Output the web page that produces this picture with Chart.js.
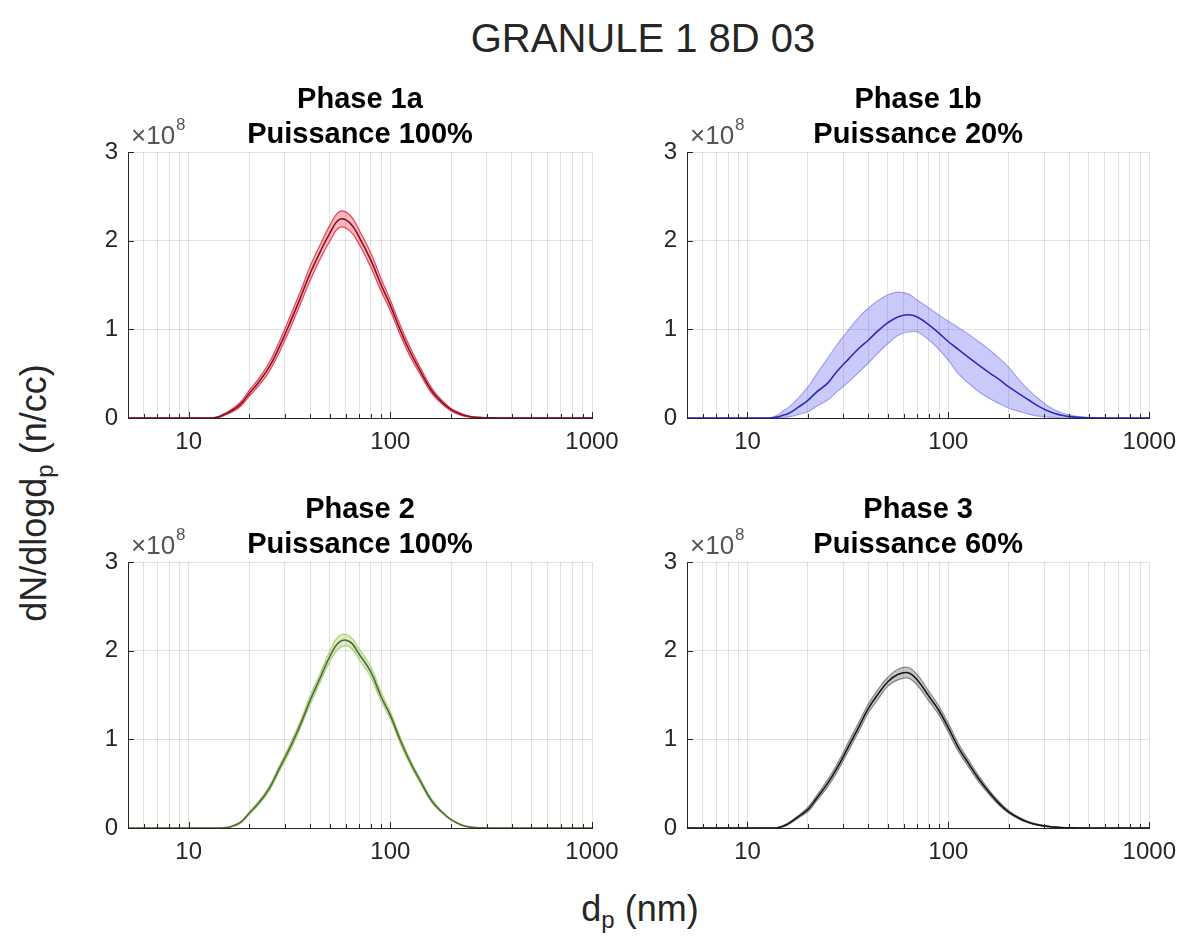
<!DOCTYPE html>
<html>
<head>
<meta charset="utf-8">
<script src="https://cdn.jsdelivr.net/npm/chart.js@4/dist/chart.umd.min.js"></script>
<style>
  body { margin: 0; background: #fff; }
  #fig { position: relative; width: 1186px; height: 941px; overflow: hidden; font-family: "Liberation Sans", Arial, sans-serif; }
  canvas { position: absolute; }
  .txt { position: absolute; text-align: center; color: #262626; white-space: nowrap; }
  #suptitle { left: 443px; top: 18px; width: 400px; font-size: 40px; line-height: 40px; }
  #xlabel { left: 440px; top: 889px; width: 400px; font-size: 36px; line-height: 40px; }
  #ylabel { left: -166px; top: 468px; width: 400px; font-size: 36px; line-height: 50px; transform: rotate(-90deg); }
  .txt sub { font-size: 24px; vertical-align: -0.3em; line-height: 0; }
</style>
</head>
<body>
<div id="fig">
  <div class="txt" id="suptitle">GRANULE 1 8D 03</div>
  <div class="txt" id="ylabel">dN/dlogd<sub>p</sub> (n/cc)</div>
  <div class="txt" id="xlabel">d<sub>p</sub> (nm)</div>
  <canvas id="c1a" width="575" height="400" style="left:60px;top:70px"></canvas>
  <canvas id="c1b" width="551" height="400" style="left:635px;top:70px"></canvas>
  <canvas id="c2" width="575" height="400" style="left:60px;top:480px"></canvas>
  <canvas id="c3" width="551" height="400" style="left:635px;top:480px"></canvas>
</div>
<script>
// particle diameter bins (nm)
const diameters = [5, 8, 10, 11, 12, 13, 14, 15, 16, 18, 20, 22, 25, 28, 32, 36, 40, 45, 50, 56,
                   63, 70, 80, 90, 100, 112, 125, 140, 160, 180, 200, 225, 250, 280, 320, 360, 400, 500, 700, 1000]

// dN/dlogdp in units of 1e8 n/cc : mean, upper and lower band
const phase1aMean  = [0, 0, 0, 0, 0, 0, 0.01, 0.04, 0.07, 0.15, 0.28, 0.39, 0.57, 0.79, 1.09, 1.37, 1.63, 1.88, 2.08, 2.24,
                      2.2, 2.04, 1.78, 1.5, 1.27, 0.99, 0.75, 0.54, 0.31, 0.18, 0.094, 0.04, 0.015, 0.005, 0.001, 0, 0, 0, 0, 0]
const phase1aUpper = [0, 0, 0, 0, 0, 0.002, 0.016, 0.05, 0.085, 0.175, 0.315, 0.43, 0.62, 0.85, 1.16, 1.44, 1.71, 1.96, 2.17, 2.33,
                      2.29, 2.12, 1.86, 1.57, 1.33, 1.045, 0.8, 0.58, 0.34, 0.2, 0.108, 0.05, 0.02, 0.008, 0.002, 0, 0, 0, 0, 0]
const phase1aLower = [0, 0, 0, 0, 0, 0, 0.005, 0.03, 0.056, 0.127, 0.247, 0.35, 0.52, 0.73, 1.02, 1.3, 1.55, 1.8, 1.99, 2.15,
                      2.11, 1.96, 1.7, 1.43, 1.21, 0.935, 0.7, 0.5, 0.28, 0.16, 0.08, 0.03, 0.01, 0.002, 0, 0, 0, 0, 0, 0]

const phase1bMean  = [0, 0, 0, 0, 0, 0, 0.01, 0.03, 0.05, 0.125, 0.2, 0.29, 0.39, 0.53, 0.67, 0.79, 0.88, 0.99, 1.075, 1.14,
                      1.165, 1.14, 1.05, 0.955, 0.86, 0.775, 0.69, 0.605, 0.51, 0.43, 0.35, 0.273, 0.206, 0.134, 0.07, 0.035, 0.015, 0.002, 0, 0]
const phase1bUpper = [0, 0, 0, 0, 0, 0.003, 0.03, 0.08, 0.12, 0.23, 0.35, 0.49, 0.67, 0.83, 1.0, 1.14, 1.24, 1.33, 1.39, 1.42,
                      1.4, 1.33, 1.24, 1.16, 1.09, 1.02, 0.95, 0.87, 0.77, 0.67, 0.57, 0.43, 0.32, 0.22, 0.12, 0.065, 0.035, 0.003, 0, 0]
const phase1bLower = [0, 0, 0, 0, 0, 0, 0.002, 0.006, 0.012, 0.04, 0.07, 0.13, 0.2, 0.3, 0.41, 0.52, 0.62, 0.74, 0.84, 0.93,
                      0.97, 0.97, 0.88, 0.77, 0.65, 0.5, 0.4, 0.305, 0.22, 0.16, 0.11, 0.075, 0.045, 0.022, 0.01, 0.003, 0, 0, 0, 0]

const phase2Mean  = [0, 0, 0, 0, 0, 0, 0, 0.003, 0.012, 0.06, 0.17, 0.27, 0.44, 0.66, 0.92, 1.18, 1.44, 1.7, 1.93, 2.1,
                     2.1, 1.96, 1.76, 1.48, 1.27, 0.99, 0.75, 0.54, 0.31, 0.18, 0.094, 0.035, 0.01, 0.002, 0, 0, 0, 0, 0, 0]
const phase2Upper = [0, 0, 0, 0, 0, 0, 0, 0.005, 0.017, 0.07, 0.185, 0.29, 0.465, 0.69, 0.96, 1.22, 1.49, 1.75, 1.99, 2.17,
                     2.16, 2.02, 1.82, 1.53, 1.31, 1.03, 0.78, 0.565, 0.33, 0.19, 0.1, 0.04, 0.012, 0.003, 0, 0, 0, 0, 0, 0]
const phase2Lower = [0, 0, 0, 0, 0, 0, 0, 0.001, 0.008, 0.05, 0.155, 0.25, 0.415, 0.63, 0.88, 1.14, 1.39, 1.65, 1.87, 2.03,
                     2.04, 1.9, 1.7, 1.43, 1.23, 0.95, 0.72, 0.515, 0.29, 0.17, 0.088, 0.03, 0.008, 0.001, 0, 0, 0, 0, 0, 0]

const phase3Mean  = [0, 0, 0, 0, 0, 0, 0.002, 0.02, 0.05, 0.13, 0.21, 0.33, 0.5, 0.68, 0.93, 1.15, 1.35, 1.52, 1.65, 1.73,
                     1.75, 1.67, 1.485, 1.32, 1.13, 0.91, 0.74, 0.57, 0.4, 0.27, 0.18, 0.11, 0.065, 0.035, 0.015, 0.006, 0.002, 0, 0, 0]
const phase3Upper = [0, 0, 0, 0, 0, 0.001, 0.004, 0.026, 0.06, 0.145, 0.235, 0.36, 0.54, 0.725, 0.98, 1.2, 1.4, 1.575, 1.7, 1.79,
                     1.81, 1.73, 1.54, 1.37, 1.18, 0.955, 0.78, 0.605, 0.425, 0.29, 0.195, 0.12, 0.072, 0.04, 0.018, 0.007, 0.003, 0, 0, 0]
const phase3Lower = [0, 0, 0, 0, 0, 0, 0.001, 0.013, 0.04, 0.115, 0.185, 0.3, 0.46, 0.635, 0.88, 1.1, 1.3, 1.465, 1.6, 1.67,
                     1.69, 1.61, 1.43, 1.27, 1.08, 0.865, 0.7, 0.535, 0.375, 0.25, 0.165, 0.1, 0.058, 0.03, 0.012, 0.005, 0.001, 0, 0, 0]

// axes
const xMajorTicks = [10, 100, 1000]
const xMinorTicks = [5, 6, 7, 8, 9, 20, 30, 40, 50, 60, 70, 80, 90, 200, 300, 400, 500, 600, 700, 800, 900]
const yTicks = [0, 1, 2, 3]
const yExponent = '8'

const FONT = '"Liberation Sans", Arial, sans-serif'
const INK = '#262626'
const GRID = 'rgba(38,38,38,0.13)'

// titles, inner tick marks and the x10^8 multiplier
const panelDecor = {
    id: 'panelDecor',
    afterDraw(chart, args, opts) {
        const {ctx, chartArea: a} = chart
        const xs = chart.scales.x, ys = chart.scales.y
        ctx.save()
        ctx.strokeStyle = INK
        ctx.lineWidth = 1
        ctx.beginPath()
        xMinorTicks.concat(xMajorTicks).forEach(v => {
            const px = Math.round(xs.getPixelForValue(v)) + 0.5
            const len = xMajorTicks.includes(v) ? 6 : 4
            ctx.moveTo(px, a.bottom)
            ctx.lineTo(px, a.bottom - len)
        })
        yTicks.forEach(v => {
            const py = Math.round(ys.getPixelForValue(v)) + 0.5
            ctx.moveTo(a.left, py)
            ctx.lineTo(a.left + 6, py)
        })
        ctx.stroke()

        ctx.fillStyle = '#555'
        ctx.textBaseline = 'alphabetic'
        ctx.textAlign = 'left'
        ctx.font = '26px ' + FONT
        ctx.fillText('\u00d710', a.left + 3, a.top - 8)
        const w = ctx.measureText('\u00d710').width
        ctx.font = '17px ' + FONT
        ctx.fillText(yExponent, a.left + 4 + w, a.top - 22)

        ctx.fillStyle = '#000'
        ctx.font = 'bold 29px ' + FONT
        ctx.textAlign = 'center'
        const cx = (a.left + a.right) / 2
        ctx.fillText(opts.lines[0], cx, a.top - 44)
        ctx.fillText(opts.lines[1], cx, a.top - 9)
        ctx.restore()
    }
}

function bandDatasets(mean, upper, lower, c) {
    const pts = arr => diameters.map((d, i) => ({x: d, y: arr[i]}))
    const common = {pointRadius: 0, tension: 0.4}
    return [
        {...common, data: pts(mean), borderColor: c.line, borderWidth: 1.6, fill: false},
        {...common, data: pts(upper), borderColor: c.edge, borderWidth: 1.2, backgroundColor: c.fill, fill: '+1'},
        {...common, data: pts(lower), borderColor: c.edge, borderWidth: 1.2, fill: false}
    ]
}

function makePanel(id, lines, datasets, padding) {
    const ctx = document.getElementById(id).getContext('2d')
    return new Chart(ctx, {
        type: 'line',
        data: {datasets: datasets},
        plugins: [panelDecor],
        options: {
            animation: false,
            responsive: false,
            devicePixelRatio: 1,
            layout: {padding: padding},
            plugins: {
                legend: {display: false},
                tooltip: {enabled: false},
                panelDecor: {lines: lines}
            },
            scales: {
                x: {
                    type: 'logarithmic',
                    min: 5,
                    max: 1000,
                    afterBuildTicks: s => { s.ticks = xMinorTicks.concat(xMajorTicks).sort((a, b) => a - b).map(v => ({value: v})) },
                    afterFit: s => { s.height = 40 },
                    ticks: {
                        autoSkip: false, maxRotation: 0, padding: 10, color: INK,
                        font: {family: FONT, size: 24},
                        callback: v => xMajorTicks.includes(v) ? String(v) : ''
                    },
                    grid: {color: GRID, drawTicks: false},
                    border: {display: true, color: INK, width: 1}
                },
                y: {
                    min: 0,
                    max: 3,
                    afterBuildTicks: s => { s.ticks = yTicks.map(v => ({value: v})) },
                    afterFit: s => { s.width = 40 },
                    ticks: {padding: 10, color: INK, font: {family: FONT, size: 24}},
                    grid: {color: GRID, drawTicks: false},
                    border: {display: true, color: INK, width: 1}
                }
            }
        }
    })
}

// chart areas: left x 128-592, right x 687-1150, top y 152-418, bottom y 562-828
const padLeft = {left: 28, right: 43, top: 82, bottom: 12}
const padRight = {left: 12, right: 36, top: 82, bottom: 12}

makePanel('c1a', ['Phase 1a', 'Puissance 100%'],
    bandDatasets(phase1aMean, phase1aUpper, phase1aLower,
        {line: '#7f1424', edge: 'rgba(240,45,70,0.9)', fill: 'rgba(235,40,60,0.33)'}), padLeft)
makePanel('c1b', ['Phase 1b', 'Puissance 20%'],
    bandDatasets(phase1bMean, phase1bUpper, phase1bLower,
        {line: '#2b2bbf', edge: 'rgba(110,110,225,0.55)', fill: 'rgba(80,80,240,0.3)'}), padRight)
makePanel('c2', ['Phase 2', 'Puissance 100%'],
    bandDatasets(phase2Mean, phase2Upper, phase2Lower,
        {line: '#55663f', edge: 'rgba(165,215,115,0.95)', fill: 'rgba(140,200,80,0.35)'}), padLeft)
makePanel('c3', ['Phase 3', 'Puissance 60%'],
    bandDatasets(phase3Mean, phase3Upper, phase3Lower,
        {line: '#151515', edge: 'rgba(100,100,100,0.7)', fill: 'rgba(0,0,0,0.22)'}), padRight)
</script>
</body>
</html>
